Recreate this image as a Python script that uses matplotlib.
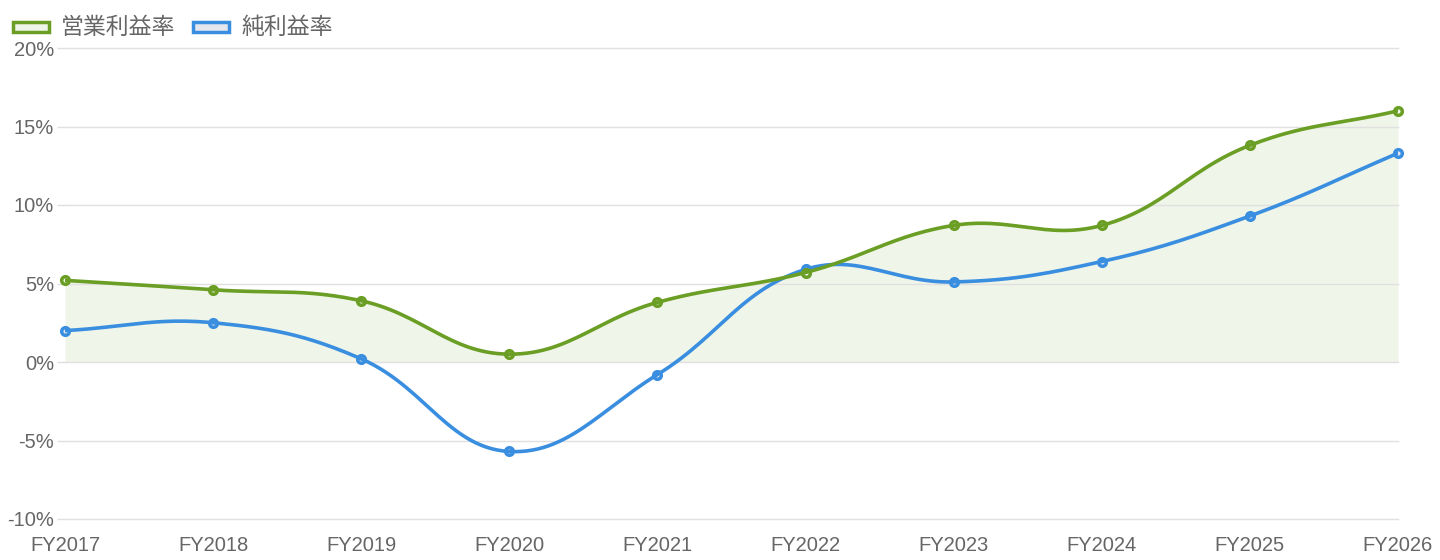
import numpy as np
import matplotlib.pyplot as plt
from matplotlib.ticker import FuncFormatter

plt.rcParams['font.family'] = ['Noto Sans CJK JP', 'DejaVu Sans']

years = ["FY2017", "FY2018", "FY2019", "FY2020", "FY2021",
         "FY2022", "FY2023", "FY2024", "FY2025", "FY2026"]
op_margin = [5.2, 4.6, 3.9, 0.5, 3.8, 5.7, 8.7, 8.7, 13.8, 16.0]
net_margin = [2.0, 2.5, 0.2, -5.7, -0.8, 5.9, 5.1, 6.4, 9.3, 13.3]

GREEN = '#6a9e24'
BLUE = '#3a8ee0'
GREEN_FILL = '#eff5e8'
BLUE_FILL = '#e4e8ee'
GRID = '#e0e0e0'
TXT = '#666666'


def spline_path(ax, xs, ys, tension=0.4, n=30):
    # curva tipo Chart.js: bezier con tension, calculada en pixeles
    pts = ax.transData.transform(np.column_stack([xs, ys]))
    out = [pts[0]]
    m = len(pts)
    cps = []
    for i in range(m):
        prev = pts[max(i - 1, 0)]
        cur = pts[i]
        nxt = pts[min(i + 1, m - 1)]
        d01 = np.hypot(*(cur - prev))
        d12 = np.hypot(*(nxt - cur))
        tot = d01 + d12
        s01 = d01 / tot if tot else 0
        s12 = d12 / tot if tot else 0
        fa = tension * s01
        fb = tension * s12
        cps.append((cur - fa * (nxt - prev), cur + fb * (nxt - prev)))
    t = np.linspace(0, 1, n)[1:, None]
    for i in range(m - 1):
        p0 = pts[i]
        c1 = cps[i][1]
        c2 = cps[i + 1][0]
        p3 = pts[i + 1]
        seg = ((1 - t) ** 3) * p0 + 3 * ((1 - t) ** 2) * t * c1 \
            + 3 * (1 - t) * t ** 2 * c2 + t ** 3 * p3
        out.extend(seg)
    out = np.array(out)
    data = ax.transData.inverted().transform(out)
    return data[:, 0], data[:, 1]


fig = plt.figure(figsize=(14.4, 5.6), dpi=100)
ax = fig.add_axes([65 / 1440, 1 - 519 / 560, (1398 - 65) / 1440, (519 - 48) / 560])

x = np.arange(len(years))
ax.set_xlim(0, len(years) - 1)
ax.set_ylim(-10, 20)

gx, gy = spline_path(ax, x, op_margin)
bx, by = spline_path(ax, x, net_margin)

ax.fill_between(gx, gy, 0, color=GREEN_FILL, lw=0, zorder=1)
ax.plot(x, op_margin, 'o', ms=5.5, mfc=GREEN_FILL, mec=GREEN, mew=2.5, zorder=3,
        clip_on=False)
ax.plot(x, net_margin, 'o', ms=5.5, mfc=BLUE_FILL, mec=BLUE, mew=2.5, zorder=2,
        clip_on=False)
ax.plot(gx, gy, color=GREEN, lw=2.6, zorder=3, solid_capstyle='round')
ax.plot(bx, by, color=BLUE, lw=2.6, zorder=2, solid_capstyle='round')

ax.set_yticks(np.arange(-10, 21, 5))
ax.yaxis.set_major_formatter(FuncFormatter(lambda v, p: f"{int(v)}%"))
ax.set_xticks(x)
ax.set_xticklabels(years)
ax.grid(axis='y', color=GRID, lw=1, zorder=0)
for gl in ax.yaxis.get_gridlines():
    gl.set_clip_on(False)
ax.tick_params(axis='y', length=6, color=GRID, width=1, pad=2)
ax.tick_params(axis='x', length=0, pad=12)
for lab in ax.get_xticklabels() + ax.get_yticklabels():
    lab.set_fontfamily('Liberation Sans')
    lab.set_fontsize(14.5)
    lab.set_color(TXT)
for s in ax.spines.values():
    s.set_visible(False)

# leyenda manual arriba a la izquierda
def legend_item(xpx, label, edge, face):
    fig.patches.append(plt.Rectangle((xpx / 1440, 1 - 32 / 560), 36 / 1440, 10 / 560,
                                     transform=fig.transFigure, fc=face, ec=edge, lw=2.5))
    fig.text((xpx + 48) / 1440, 1 - 27 / 560, label, fontsize=16.5, color=TXT,
             va='center', ha='left')

legend_item(13, "営業利益率", GREEN, GREEN_FILL)
legend_item(193, "純利益率", BLUE, BLUE_FILL)

fig.savefig("out.png", dpi=100)
